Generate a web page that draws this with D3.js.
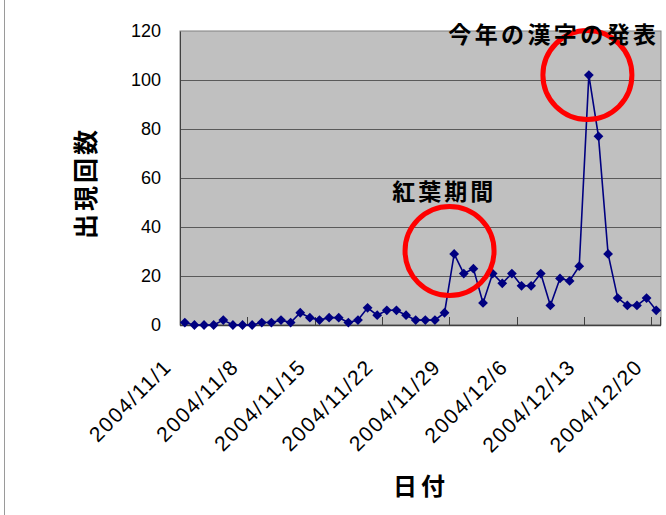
<!DOCTYPE html>
<html><head><meta charset="utf-8">
<script src="https://cdn.jsdelivr.net/npm/d3@7/dist/d3.min.js"></script>
<style>
html,body{margin:0;padding:0;background:#fff;}
svg{display:block;}
</style></head>
<body>
<script>
// ---- data ----
const dayCount = 50;
const dates = d3.range(dayCount).map(i => {
  const d = new Date(2004, 10, 1 + i);
  return `${d.getFullYear()}/${d.getMonth() + 1}/${d.getDate()}`;
});
const counts = [1,0,0,0,2,0,0,0,1,1, 2,1,5,3,2,3,3,1,2,7, 4,6,6,4,2,2,2,5,29,21, 23,9,21,17,21,16,16,21,8,19, 18,24,102,77,29,11,8,8,11,6];
const yTicks = [0,20,40,60,80,100,120];
const xTickLabels = ["2004/11/1","2004/11/8","2004/11/15","2004/11/22","2004/11/29","2004/12/6","2004/12/13","2004/12/20"];
const yTitle = "出現回数";
const xTitle = "日付";
const annotations = [
  {label: "紅葉期間", date: "2004/11/29", offset: -0.48, value: 30.2},
  {label: "今年の漢字の発表", date: "2004/12/13", offset: -0.15, value: 102}
];

// ---- layout ----
const W = 666, H = 515;
const plot = {left: 180, right: 661, top: 31, bottom: 325};

const svg = d3.select("body").append("svg").attr("width", W).attr("height", H);

// outer chart border (left edge)
svg.append("line").attr("x1", 4.5).attr("x2", 4.5).attr("y1", 0).attr("y2", H)
  .attr("stroke", "#9a9a9a").attr("stroke-width", 1);

const x = d3.scaleBand().domain(dates).range([plot.left, plot.right]).paddingInner(0).paddingOuter(0);
const bw = x.bandwidth();
const cx = d => x(d) + bw / 2;
const y = d3.scaleLinear().domain([0, 120]).range([plot.bottom, plot.top]);

// plot area
svg.append("rect").attr("x", plot.left).attr("y", plot.top)
  .attr("width", plot.right - plot.left).attr("height", plot.bottom - plot.top)
  .attr("fill", "#c0c0c0").attr("stroke", "#808080").attr("stroke-width", 1);

// gridlines
svg.append("g").selectAll("line").data(yTicks.filter(t => t > 0 && t < 120)).join("line")
  .attr("x1", plot.left).attr("x2", plot.right)
  .attr("y1", d => Math.round(y(d)) + 0.5).attr("y2", d => Math.round(y(d)) + 0.5)
  .attr("stroke", "#5a5a5a").attr("stroke-width", 1);

// y axis labels
const yAxis = d3.axisLeft(y).tickValues(yTicks).tickSize(0).tickPadding(19);
const gy = svg.append("g").attr("transform", `translate(${plot.left},0)`).call(yAxis);
gy.select(".domain").attr("stroke", "#404040");
gy.selectAll("text").attr("font-family", "Liberation Sans, Arial, sans-serif")
  .attr("font-size", 18).attr("fill", "#000");

// x axis
const tickIdx = d3.range(0, dayCount, 7);
const gx = svg.append("g");
gx.append("line").attr("x1", plot.left).attr("x2", plot.right)
  .attr("y1", plot.bottom + 0.5).attr("y2", plot.bottom + 0.5).attr("stroke", "#404040").attr("stroke-width", 1.5);
gx.selectAll("line.tick").data(tickIdx.concat([dayCount - 1])).join("line").attr("class", "tick")
  .attr("x1", (d, i) => i < tickIdx.length ? Math.round(x(dates[d])) + 0.5 : plot.right - 0.5)
  .attr("x2", (d, i) => i < tickIdx.length ? Math.round(x(dates[d])) + 0.5 : plot.right - 0.5)
  .attr("y1", plot.bottom).attr("y2", plot.bottom - 8)
  .attr("stroke", "#404040").attr("stroke-width", 1);
gx.selectAll("text").data(xTickLabels).join("text")
  .attr("transform", d => `translate(${cx(d) - 12},368) rotate(-45)`)
  .attr("text-anchor", "end")
  .attr("font-family", "Liberation Sans, Arial, sans-serif")
  .attr("font-size", 21).attr("letter-spacing", 1.6)
  .attr("fill", "#000").text(d => d);

// line + markers
const pts = dates.map((d, i) => ({d, v: counts[i]}));
svg.append("path").datum(pts)
  .attr("d", d3.line().x(p => cx(p.d)).y(p => y(p.v)))
  .attr("fill", "none").attr("stroke", "#000080").attr("stroke-width", 1.6);
const sym = d3.symbol().type(d3.symbolSquare).size(48);
svg.append("g").selectAll("path").data(pts).join("path")
  .attr("d", sym)
  .attr("transform", p => `translate(${cx(p.d)},${y(p.v)}) rotate(45)`)
  .attr("fill", "#000080");

// annotations: circles
const circR = 44.5;
annotations.forEach(a => {
  const ax = cx(a.date) + a.offset * bw;
  const ay = y(a.value);
  svg.append("circle").attr("cx", ax).attr("cy", ay).attr("r", circR)
    .attr("fill", "none").attr("stroke", "#ff0000").attr("stroke-width", 5);
});
// annotation labels
const annoFont = "'Noto Sans CJK JP', sans-serif";
svg.append("text").attr("x", cx(annotations[0].date) - 10).attr("y", 200)
  .attr("text-anchor", "middle").attr("font-family", annoFont).attr("font-weight", "bold")
  .attr("font-size", 23).attr("letter-spacing", 3).text(annotations[0].label);
svg.append("text").attr("x", cx(annotations[1].date) - 35).attr("y", 43)
  .attr("text-anchor", "middle").attr("font-family", annoFont).attr("font-weight", "bold")
  .attr("font-size", 23).attr("letter-spacing", 3.4).text(annotations[1].label);

// axis titles
svg.append("text").attr("transform", "translate(95,183) rotate(-90)")
  .attr("text-anchor", "middle").attr("font-family", annoFont).attr("font-weight", "bold")
  .attr("font-size", 25).attr("letter-spacing", 3).text(yTitle);
svg.append("text").attr("x", 421).attr("y", 495)
  .attr("text-anchor", "middle").attr("font-family", annoFont).attr("font-weight", "bold")
  .attr("font-size", 24).attr("letter-spacing", 4).text(xTitle);
</script>
</body></html>
